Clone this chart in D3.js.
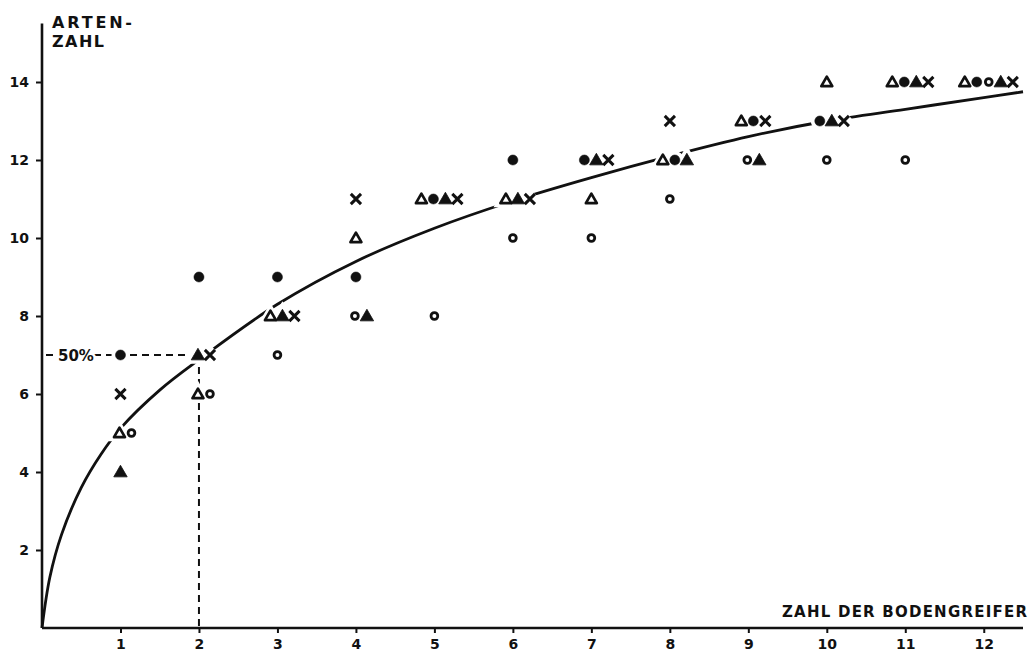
<!DOCTYPE html>
<html>
<head>
<meta charset="utf-8">
<script src="https://cdn.jsdelivr.net/npm/d3@7"></script>
<style>
  body { margin: 0; background: #fff; }
  svg { display: block; }
  text { font-family: "DejaVu Sans", sans-serif; font-weight: bold; fill: #111; }
</style>
</head>
<body>
<div id="container"></div>
<script>
const w = 1030;
const h = 655;

// number of grabs (x) 1..12
const grabs = [1, 2, 3, 4, 5, 6, 7, 8, 9, 10, 11, 12];
// species count per series
const openTriangle = [5, 6, 8, 10, 11, 11, 11, 12, 13, 14, 14, 14];
const filledDot    = [7, 9, 9, 9, 11, 12, 12, 12, 13, 13, 14, 14];
const openCircle   = [5, 6, 7, 8, 8, 10, 10, 11, 12, 12, 12, 14];
const filledTri    = [4, 7, 8, 8, 11, 11, 12, 12, 12, 13, 14, 14];
const cross        = [6, 7, 8, 11, 11, 11, 12, 13, 13, 13, 14, 14];

// fitted curve, points
const curveX = [0, 0.1, 0.25, 0.5, 0.75, 1, 1.5, 2, 3, 4, 5, 6, 7, 8, 9, 10, 11, 12, 12.5];
const curveY = [0, 1.3, 2.4, 3.6, 4.45, 5.12, 6.1, 6.88, 8.3, 9.4, 10.25, 10.95, 11.55, 12.1, 12.6, 13.0, 13.3, 13.6, 13.75];

const yTicks = [2, 4, 6, 8, 10, 12, 14];
const halfPoint = { x: 2, y: 7, label: '50%' };

const series = [
  { key: 'triOpen', values: openTriangle },
  { key: 'dot', values: filledDot },
  { key: 'circle', values: openCircle },
  { key: 'triFilled', values: filledTri },
  { key: 'cross', values: cross }
];

const svg = d3.select('#container')
  .append('svg')
  .attr('width', w)
  .attr('height', h);

const xScale = d3.scaleLinear().domain([0, 12.5]).range([42, 1023]);
const yScale = d3.scaleLinear().domain([0, 15.5]).range([628, 23.5]);

// dashed 50% guides
const guide = svg.append('g')
  .attr('stroke', '#111')
  .attr('stroke-width', 2)
  .attr('stroke-dasharray', '7,5')
  .attr('fill', 'none');
guide.append('line')
  .attr('x1', xScale(0) + 4).attr('x2', xScale(halfPoint.x))
  .attr('y1', yScale(halfPoint.y)).attr('y2', yScale(halfPoint.y));
guide.append('line')
  .attr('x1', xScale(halfPoint.x)).attr('x2', xScale(halfPoint.x))
  .attr('y1', yScale(halfPoint.y)).attr('y2', yScale(0));
svg.append('text')
  .text(halfPoint.label)
  .attr('x', xScale(0) + 16)
  .attr('y', yScale(halfPoint.y) + 5.5)
  .style('font-size', '15px')
  .style('stroke', '#fff')
  .style('stroke-width', 5)
  .style('paint-order', 'stroke');

// curve
const curvePts = curveX.map((x, i) => [x, curveY[i]]);
svg.append('path')
  .datum(curvePts)
  .attr('fill', 'none')
  .attr('stroke', '#111')
  .attr('stroke-width', 2.8)
  .attr('d', d3.line()
    .x(d => xScale(d[0]))
    .y(d => yScale(d[1]))
    .curve(d3.curveCatmullRom.alpha(0.5)));

// markers, grouped where several sit on the same value
const points = [];
series.forEach((s, si) => {
  s.values.forEach((v, i) => points.push({ key: s.key, order: si, x: grabs[i], y: v }));
});
const groups = d3.group(points, d => d.x, d => d.y);
groups.forEach(byY => byY.forEach(list => {
  list.sort((a, b) => a.order - b.order);
  const n = list.length;
  list.forEach((p, i) => {
    p.dx = (i - (n - 1) / 2) * 12 + (n > 1 ? 5 : 0);
  });
}));

const symbolX = d3.symbolX || {
  draw(ctx, size) {
    const r = Math.sqrt(size + Math.min(size / 7, 2)) * 0.4;
    ctx.moveTo(-r, -r); ctx.lineTo(r, r);
    ctx.moveTo(-r, r); ctx.lineTo(r, -r);
  }
};
const shape = {
  triOpen: { type: d3.symbolTriangle, size: 52, fill: 'none', stroke: 2.7 },
  triFilled: { type: d3.symbolTriangle, size: 78, fill: '#111', stroke: 0.8 },
  dot: { type: d3.symbolCircle, size: 80, fill: '#111', stroke: 0.5 },
  circle: { type: d3.symbolCircle, size: 36, fill: 'none', stroke: 2.8 },
  cross: { type: symbolX, size: 70, fill: 'none', stroke: 3 }
};

const markPos = d => `translate(${xScale(d.x) + d.dx},${yScale(d.y) + (d.key.startsWith('tri') ? 1 : 0)})`;
const marks = svg.append('g');
marks.selectAll('path.halo')
  .data(points)
  .enter()
  .append('path')
  .attr('class', 'halo')
  .attr('transform', markPos)
  .attr('d', d => d3.symbol(shape[d.key].type, shape[d.key].size)())
  .attr('fill', '#fff')
  .attr('stroke', '#fff')
  .attr('stroke-width', 8);
marks.selectAll('path.mark')
  .data(points)
  .enter()
  .append('path')
  .attr('class', 'mark')
  .attr('transform', markPos)
  .attr('d', d => d3.symbol(shape[d.key].type, shape[d.key].size)())
  .attr('fill', d => shape[d.key].fill)
  .attr('stroke', '#111')
  .attr('stroke-width', d => shape[d.key].stroke)
  .attr('stroke-linejoin', 'round');

// axes
const xAxis = d3.axisBottom(xScale).tickValues(grabs).tickSize(5).tickPadding(6).tickFormat(d => String(d));
const yAxis = d3.axisLeft(yScale).tickValues(yTicks).tickSize(6).tickPadding(7).tickFormat(d => String(d));
const gx = svg.append('g')
  .attr('transform', `translate(0,${yScale(0)})`)
  .call(xAxis);
const gy = svg.append('g')
  .attr('transform', `translate(${xScale(0)},0)`)
  .call(yAxis);
[gx, gy].forEach(g => {
  g.select('.domain').attr('stroke', '#111').attr('stroke-width', 2.6);
  g.selectAll('.tick line').attr('stroke', '#111').attr('stroke-width', 2);
  g.selectAll('.tick text')
    .style('font-size', '14px')
    .style('font-family', '"DejaVu Sans", sans-serif')
    .style('font-weight', 'bold')
    .attr('fill', '#111');
});
gx.select('.domain').attr('d', `M${xScale(0)},0H${xScale(12.5)}`);
gy.select('.domain').attr('d', `M0,${yScale(0)}V${yScale(15.5)}`);

// axis titles
svg.append('text').text('ARTEN-').attr('x', 52).attr('y', 28)
  .attr('textLength', 80)
  .style('font-size', '16px');
svg.append('text').text('ZAHL').attr('x', 52).attr('y', 47)
  .attr('textLength', 52)
  .style('font-size', '16px');
svg.append('text').text('ZAHL DER BODENGREIFER')
  .attr('x', 1027).attr('y', 617)
  .attr('text-anchor', 'end')
  .attr('textLength', 245)
  .style('font-size', '15px');
</script>
</body>
</html>
